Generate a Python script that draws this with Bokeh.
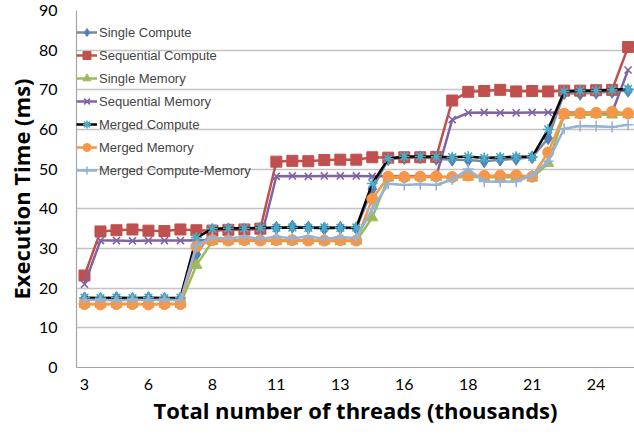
from bokeh.plotting import figure
from bokeh.models import FixedTicker, Legend, LegendItem, Range1d
from bokeh.embed import file_html
from bokeh.resources import INLINE

# category index (35 categories), labelled every 4th category
categories = list(range(35))
tick_positions = [0, 4, 8, 12, 16, 20, 24, 28, 32]
tick_labels = ["3", "6", "8", "11", "13", "16", "18", "21", "24"]
y_ticks = [0, 10, 20, 30, 40, 50, 60, 70, 80, 90]

single_compute = [17.4, 17.3, 17.5, 17.3, 17.5, 17.3, 17.4,
                  28.5,
                  34.6, 34.8, 34.7, 35.0, 35.2, 35.5, 35.3, 35.0, 35.2, 35.1,
                  45.0,
                  52.5, 52.8, 53.0, 52.6, 52.4, 52.3, 52.0, 52.4, 52.6, 53.0,
                  57.8,
                  69.2, 69.0, 69.3, 69.5, 69.8]
sequential_compute = [23.2,
                      34.3, 34.6, 34.8, 34.5, 34.4, 34.8, 34.6, 34.5, 34.7, 34.8, 35.0,
                      51.9, 52.1, 52.0, 52.3, 52.4, 52.4, 53.0, 52.9, 53.0, 53.0, 53.1,
                      67.3,
                      69.5, 69.7, 70.0, 69.6, 69.7, 69.6, 69.8, 69.8, 69.9, 70.0,
                      80.8]
single_memory = [16.0, 16.0, 16.0, 16.0, 16.0, 16.0, 16.0,
                 25.8,
                 31.8, 31.9, 31.9, 32.0, 31.8, 31.9, 32.0, 31.9, 31.8, 31.9,
                 37.8,
                 47.8, 47.9, 48.0, 48.0, 47.9, 48.0, 48.0, 47.9, 48.0, 47.8,
                 51.5,
                 63.6, 63.7, 63.8, 63.7, 63.8]
sequential_memory = [21.0,
                     32.0, 32.0, 31.9, 32.0, 32.0, 32.0, 32.1, 32.0, 32.0, 32.1, 32.0,
                     48.2, 48.3, 48.2, 48.3, 48.3, 48.3, 48.2, 48.3, 48.2, 48.3, 48.2,
                     62.5,
                     64.2, 64.3, 64.2, 64.2, 64.3, 64.3, 64.2, 64.3, 64.2, 64.3,
                     75.0]
merged_compute = [17.6, 17.5, 17.6, 17.5, 17.6, 17.5, 17.6,
                  32.7,
                  35.0, 35.1, 35.1, 35.2, 35.2, 35.3, 35.2, 35.3, 35.2, 35.3,
                  46.4,
                  52.6, 53.2, 53.2, 53.1, 53.0, 53.2, 52.8, 53.0, 53.1, 53.1,
                  60.0,
                  69.6, 69.8, 69.8, 70.0, 70.2]
merged_memory = [16.0, 15.9, 16.0, 16.0, 15.9, 16.0, 16.0,
                 30.5,
                 32.1, 32.0, 32.1, 32.0, 32.1, 32.1, 32.0, 32.0, 32.1, 32.0,
                 42.5,
                 48.1, 48.0, 48.1, 48.2, 48.0, 48.4, 48.3, 48.4, 48.5, 48.1,
                 54.2,
                 64.0, 64.1, 64.2, 64.5, 64.1]
merged_compute_memory = [17.0, 17.1, 16.9, 17.1, 17.0, 17.1, 17.0,
                         30.8,
                         32.8, 32.5, 33.0, 32.4, 33.0, 32.5, 33.1, 32.4, 32.9, 32.6,
                         40.0,
                         46.3, 46.0, 46.2, 46.0, 47.4, 50.0, 46.9, 46.8, 46.9, 48.4,
                         52.0,
                         60.2, 60.9, 60.8, 60.6, 61.2]

series = [
    ("Single Compute", single_compute, "#7D8A9C", "#4F81BD", "diamond", 13),
    ("Sequential Compute", sequential_compute, "#C0504D", "#C0504D", "square", 11),
    ("Single Memory", single_memory, "#9BBB59", "#9BBB59", "triangle", 11),
    ("Sequential Memory", sequential_memory, "#8064A2", "#8064A2", "x", 10),
    ("Merged Compute", merged_compute, "#000000", "#4BACC6", "asterisk", 11),
    ("Merged Memory", merged_memory, "#F79646", "#F79646", "circle", 11),
    ("Merged Compute-Memory", merged_compute_memory, "#95B3D7", "#95B3D7", "cross", 11),
]

p = figure(width=634, height=435, output_backend="svg", toolbar_location=None,
           x_range=Range1d(-0.5, 34.4), y_range=Range1d(0, 90),
           min_border_left=76, min_border_right=0, min_border_top=10,
           min_border_bottom=68)
p.outline_line_color = None
p.background_fill_color = "white"
p.border_fill_color = "white"
p.xgrid.visible = False
p.ygrid.grid_line_color = "#C4C4C4"
p.ygrid.grid_line_width = 1.5
p.ygrid.ticker = FixedTicker(ticks=y_ticks)

p.yaxis.ticker = FixedTicker(ticks=y_ticks)
p.xaxis.ticker = FixedTicker(ticks=tick_positions)
p.xaxis.major_label_overrides = {t: l for t, l in zip(tick_positions, tick_labels)}
for ax in (p.xaxis, p.yaxis):
    ax.axis_line_color = "#A6A6A6"
    ax.axis_line_width = 1.2
    ax.major_tick_line_color = None
    ax.minor_tick_line_color = None
    ax.major_tick_out = 0
    ax.major_tick_in = 0
    ax.minor_tick_out = 0
    ax.major_label_text_font = "Lato"
    ax.major_label_text_font_size = "16px"
    ax.major_label_text_color = "#000000"
    ax.axis_label_text_font = "Open Sans"
    ax.axis_label_text_font_style = "bold"
    ax.axis_label_text_font_size = "22px"
    ax.axis_label_text_color = "#000000"
p.yaxis.major_label_standoff = 19
p.xaxis.major_label_standoff = 11
p.yaxis.axis_label = "Execution Time (ms)"
p.xaxis.axis_label = "Total number of threads (thousands)"
p.yaxis.axis_label_standoff = 0
p.xaxis.axis_label_standoff = 2

items = []
for name, vals, lc, mc, marker, size in series:
    lr = p.line(categories, vals, line_color=lc, line_width=2.5)
    if marker in ("x", "asterisk", "cross"):
        sr = p.scatter(categories, vals, marker=marker, size=size,
                       line_color=mc, line_width=1.6, fill_color=None)
    else:
        sr = p.scatter(categories, vals, marker=marker, size=size,
                       line_color=mc, fill_color=mc)
    items.append(LegendItem(label=name, renderers=[lr, sr]))

legend = Legend(items=items, location=(0, 187), margin=0, padding=0,
                spacing=3, glyph_width=21, glyph_height=20, label_height=20,
                label_standoff=2, label_text_font="Liberation Sans",
                label_text_font_size="13px", background_fill_alpha=0,
                border_line_color=None)
p.add_layout(legend)

open("out.html", "w").write(file_html(p, INLINE))
